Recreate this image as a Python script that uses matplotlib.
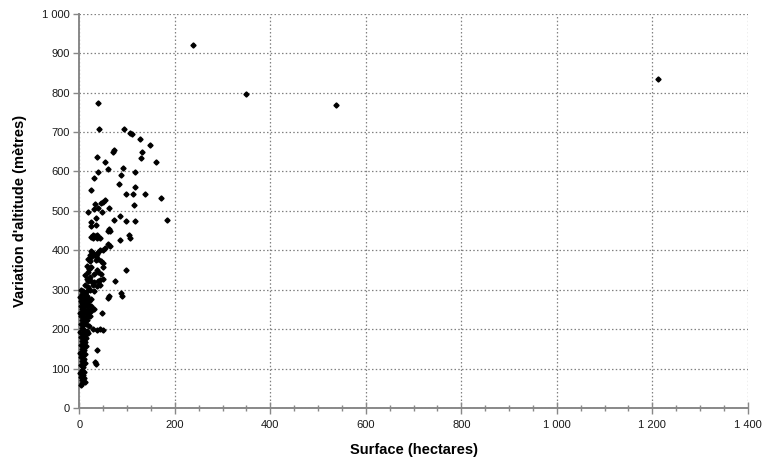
import matplotlib
matplotlib.use("Agg")
import matplotlib.pyplot as plt
from matplotlib.ticker import FuncFormatter, MultipleLocator

plt.rcParams["font.family"] = ["Liberation Sans", "DejaVu Sans"]

# Surface (hectares), variation d'altitude (metres)
surface = [
    239, 349, 537, 1212,
    40, 42, 93, 107, 110, 128, 148, 72, 70, 132, 37, 130, 54, 160, 59, 91,
    40, 117, 87, 31, 82, 116, 25, 98, 113, 138, 170, 54,
    50, 46, 33, 39, 30, 115, 63, 19, 48, 86, 72, 97, 116, 183, 25, 35, 25, 35,
    62, 64, 60, 29, 36, 24, 29, 36, 44, 33, 104, 106, 86, 61, 64, 54, 50, 44,
    40, 38, 24, 28, 22, 34, 30, 25, 18, 22, 34, 40, 46, 50, 16, 25, 20, 36,
    50, 98, 18, 12, 30, 46, 40, 22, 15, 18, 24, 30, 40, 44, 50, 75, 12, 18,
    28, 38, 44, 15, 22, 30, 61, 90, 12, 18, 24,
    3, 8, 5, 12, 2, 9, 15, 4, 10, 6, 14, 20, 3, 8, 12, 18, 25, 5, 10, 16,
    22, 30, 2, 7, 13, 19, 4, 9, 15, 22, 6, 11, 17, 3, 8, 14, 20, 5, 10, 16,
    2, 7, 12, 18, 4, 9, 14, 6, 11, 3, 8, 13, 5, 10, 2, 7, 12, 4, 9, 6, 11,
    3, 8, 5, 10, 2, 7, 4, 9, 6, 12, 5, 3,
    29, 37, 44, 50, 36, 33, 34, 47, 63, 88, 24, 18,
]
altitude = [
    921, 796, 769, 836,
    773, 707, 709, 697, 695, 683, 667, 655, 650, 650, 636, 633, 623, 625, 606, 609,
    599, 599, 592, 584, 568, 561, 554, 543, 543, 543, 534, 528,
    523, 520, 518, 508, 506, 515, 507, 498, 498, 486, 478, 474, 474, 476, 473, 483, 462, 464,
    455, 448, 450, 440, 438, 435, 430, 432, 432, 437, 438, 432, 425, 416, 410, 405, 402, 402,
    395, 390, 397, 393, 388, 386, 387, 383, 378, 372, 375, 378, 374, 368, 360, 358, 352, 350,
    358, 351, 344, 338, 340, 340, 345, 333, 327, 323, 322, 320, 322, 325, 327, 322, 312, 308,
    312, 310, 312, 296, 298, 296, 280, 285, 278, 276, 277,
    300, 296, 290, 288, 282, 280, 285, 272, 270, 265, 268, 272, 258, 255, 260, 262, 258, 250, 248, 250,
    248, 252, 242, 240, 238, 242, 232, 228, 230, 234, 222, 220, 224, 214, 210, 212, 208, 202, 198, 196,
    192, 188, 186, 190, 180, 176, 178, 170, 166, 160, 156, 158, 150, 146, 140, 136, 138, 128, 125, 118, 114,
    108, 104, 96, 92, 88, 84, 78, 75, 70, 65, 62, 58,
    200, 198, 199, 198, 147, 117, 112, 240, 284, 292, 245, 240,
]

x_ticks = [0, 200, 400, 600, 800, 1000, 1200, 1400]
y_ticks = [0, 100, 200, 300, 400, 500, 600, 700, 800, 900, 1000]


def thousands(v, pos):
    return f"{int(v):,}".replace(",", " ")


fig = plt.figure(figsize=(7.63, 4.63), dpi=100)
ax = fig.add_axes([0.104, 0.119, 0.876, 0.851])

ax.plot(surface, altitude, linestyle="none", marker="D", markersize=2.6,
        color="black", zorder=3, clip_on=False)

ax.set_xlim(0, 1400)
ax.set_ylim(0, 1000)
ax.set_xticks(x_ticks)
ax.set_yticks(y_ticks)
ax.xaxis.set_minor_locator(MultipleLocator(50))
ax.xaxis.set_major_formatter(FuncFormatter(thousands))
ax.yaxis.set_major_formatter(FuncFormatter(thousands))

ax.grid(True, which="major", linestyle=(0, (1.2, 1.8)), color="#808080", linewidth=0.9)
ax.set_axisbelow(True)

for side in ["top", "right"]:
    ax.spines[side].set_visible(False)
for side in ["left", "bottom"]:
    ax.spines[side].set_color("#888888")
    ax.spines[side].set_linewidth(1.4)

ax.tick_params(axis="x", which="major", direction="inout", length=8, width=1,
               color="#888888", labelsize=8, pad=5)
ax.tick_params(axis="x", which="minor", direction="inout", length=4, width=1,
               color="#888888")
ax.tick_params(axis="y", which="major", direction="out", length=4, width=1,
               color="#888888", labelsize=8, pad=3)
for lbl in ax.get_xticklabels() + ax.get_yticklabels():
    lbl.set_color("#1a1a1a")

ax.set_xlabel("Surface (hectares)", fontsize=10.5, fontweight="bold", labelpad=9)
ax.set_ylabel("Variation d'altitude (mètres)", fontsize=10.5, fontweight="bold", labelpad=11)

fig.savefig("out.png", dpi=100)
